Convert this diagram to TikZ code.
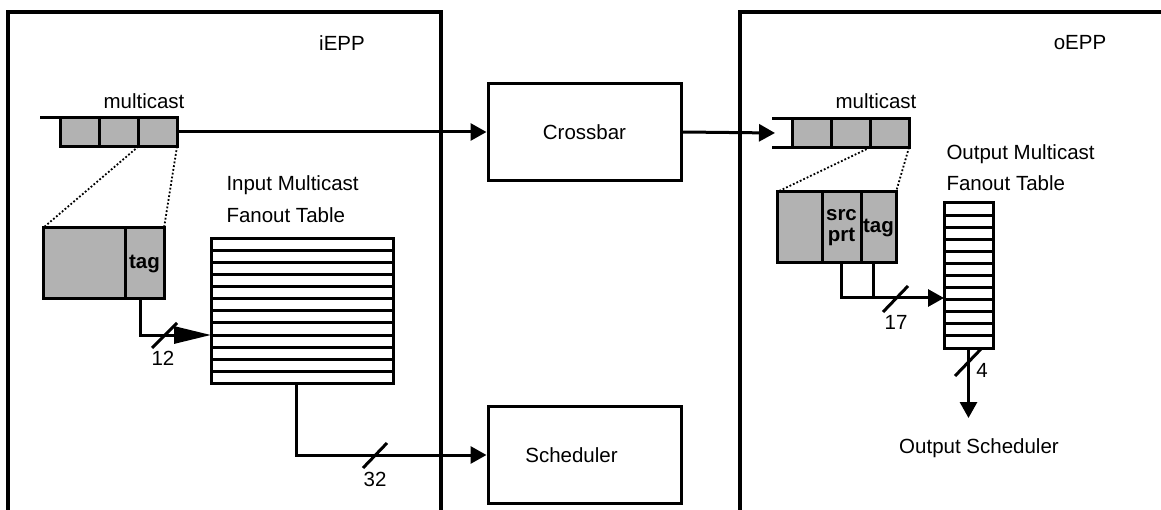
\documentclass[tikz,border=0pt]{standalone}
\usepackage{fontspec}
\setmainfont{Liberation Sans}
\usepackage{tikz}
\usetikzlibrary{arrows.meta}

\begin{document}
\begin{tikzpicture}
  [x=1pt,y=-1pt,line width=3pt,
   every node/.style={font=\fontsize{20.5}{24}\selectfont,inner sep=0pt},
   blk/.style={draw,rectangle,minimum width=193pt,minimum height=97pt},
   cell/.style={draw,rectangle,fill=gray!60,outer sep=0pt,minimum width=38.7pt,minimum height=29pt},
   fld/.style={draw,rectangle,fill=gray!60,outer sep=0pt,minimum height=71pt,font=\fontsize{20.5}{21}\selectfont\bfseries},
   tbl/.style={draw,rectangle},
   arr/.style={-{Triangle[length=16pt,width=17pt]}},
   bigarr/.style={-{Triangle[length=37pt,width=17pt]}},
   zoomline/.style={dotted,line width=1.8pt}]
    \useasboundingbox (0,0) rectangle (1161,510);

    % the two packet processors
    \draw[line width=3.5pt] (8,512) -- (8,12) -- (441,12) -- (441,512);
    \draw[line width=3.5pt] (740,512) -- (740,12) -- (1163,12);
    \node (iepp) at (342,43) {iEPP};
    \node (oepp) at (1080,43) {oEPP};

    % switch fabric
    \node[blk] (xbar)  at (584.5,132) {Crossbar};
    \node[blk] (sched) at (584.5,455) {\hspace*{-26pt}Scheduler};

    % input side
    \node (imc) at (144,101) {multicast};
    \node[cell] (iq1) at (80.3,132)  {};
    \node[cell] (iq2) at (119,132)   {};
    \node[cell] (iq3) at (157.7,132) {};
    \draw (40,117.5) -- (iq1.north west);
    \draw[arr] (iq3.east) -- (xbar.west);

    \node[fld,minimum width=82pt] (if1)  at (84,263.5)  {};
    \node[fld,minimum width=39pt] (itag) at (144.5,263.5) {tag};
    \draw[zoomline] (iq2.south east) -- (if1.north west);
    \draw[zoomline] (iq3.south east) -- (itag.north east);

    \node[tbl,minimum width=182pt,minimum height=144pt] (itab) at (302,311) {};
    \foreach \y in {251,263,...,371}
      \draw (211,\y) -- (393,\y);
    \node[align=left,anchor=west,font=\fontsize{20.5}{32}\selectfont] (ilbl) at (225,199)
      {Input Multicast\\Fanout Table};

    \coordinate (i12) at (211,335);
    \draw[bigarr] ([xshift=-4.5pt]itag.south) |- (i12);
    \draw (152,348) -- (177,323);
    \node (n12) at (163,358) {12};

    \draw[arr] ([xshift=-6pt]itab.south) |- (sched.west);
    \draw (363,468) -- (387,443);
    \node (n32) at (375,479) {32};

    % output side
    \node (omc) at (876,101) {multicast};
    \node[cell,minimum width=39pt] (oq1) at (811.5,133) {};
    \node[cell,minimum width=39pt] (oq2) at (850.5,133) {};
    \node[cell,minimum width=39pt] (oq3) at (889.5,133) {};
    \draw (772,118.5) -- (oq1.north west);
    \draw (772,147.5) -- (oq1.south west);
    \coordinate (oin) at (775,133);
    \draw[arr] (xbar.east) -- (oin);

    \node[fld,minimum width=45pt] (of1)  at (799.5,227.5) {};
    \node[fld,minimum width=39pt,align=center] (osrc) at (841.5,227.5) {src\\prt};
    \node[fld,minimum width=35pt] (otag) at (878.5,227.5) {tag};
    \draw[zoomline] (oq2.south east) -- (of1.north west);
    \draw[zoomline] (oq3.south east) -- (otag.north east);

    \node[tbl,minimum width=49pt,minimum height=145pt] (otab) at (968.5,275.5) {};
    \foreach \i in {1,...,11}
      \draw (944,{203+12.08*\i}) -- (993,{203+12.08*\i});
    \node[align=left,anchor=west,font=\fontsize{20.5}{31}\selectfont] (olbl) at (945,167.5)
      {Output Multicast\\Fanout Table};

    \coordinate (o17) at (944,298);
    \draw[arr] (osrc.south) |- (o17);
    \draw ([xshift=-5.5pt]otag.south) -- ++(0,35);
    \draw (883,312) -- (908,286);
    \node (n17) at (896,322) {17};

    \node (osch) at (979,448) {Output Scheduler};
    \coordinate (oout) at (968.5,418);
    \draw[arr] (otab.south) -- (oout);
    \draw (955,376) -- (981,349);
    \node (n4) at (982,370) {4};
\end{tikzpicture}
\end{document}
